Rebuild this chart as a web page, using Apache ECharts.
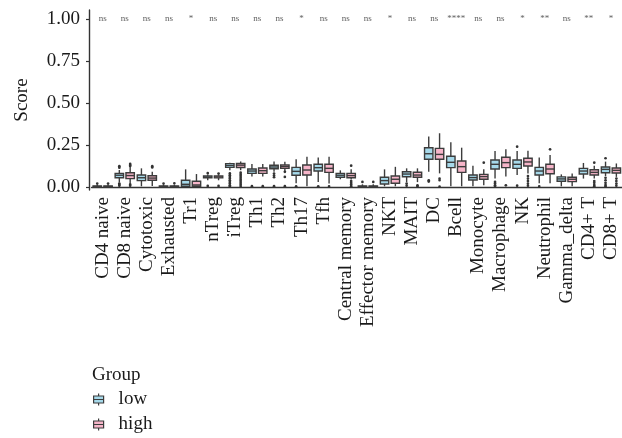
<!DOCTYPE html>
<html>
<head>
<meta charset="utf-8">
<script src="https://cdn.jsdelivr.net/npm/echarts@6.0.0/dist/echarts.min.js"></script>
<style>
  html, body { margin: 0; padding: 0; background: #fff; }
  #chart { width: 622px; height: 438px; }
</style>
</head>
<body>
<div id="chart"></div>
<script>
const categories = ["CD4 naive", "CD8 naive", "Cytotoxic", "Exhausted", "Tr1", "nTreg", "iTreg", "Th1", "Th2",
  "Th17", "Tfh", "Central memory", "Effector memory", "NKT", "MAIT", "DC", "Bcell", "Monocyte", "Macrophage",
  "NK", "Neutrophil", "Gamma_delta", "CD4+ T", "CD8+ T"];

// [min, q1, median, q3, max] per category
const lowStats = [
  [0, 0.001, 0.003, 0.006, 0.014], [0.027, 0.055, 0.07, 0.081, 0.101], [0.004, 0.038, 0.055, 0.071, 0.111],
  [0, 0.001, 0.003, 0.006, 0.013], [0, 0.004, 0.016, 0.04, 0.105], [0.04, 0.055, 0.06, 0.066, 0.075],
  [0.1, 0.117, 0.128, 0.139, 0.145], [0.062, 0.081, 0.095, 0.107, 0.137], [0.091, 0.109, 0.119, 0.129, 0.151],
  [0.022, 0.07, 0.093, 0.117, 0.165], [0.029, 0.095, 0.115, 0.135, 0.175], [0.046, 0.058, 0.07, 0.081, 0.099],
  [0, 0.001, 0.003, 0.006, 0.016], [0.004, 0.018, 0.038, 0.058, 0.105], [0.029, 0.061, 0.077, 0.091, 0.111],
  [0.091, 0.165, 0.198, 0.234, 0.3], [0.004, 0.115, 0.147, 0.183, 0.266], [0.004, 0.042, 0.056, 0.071, 0.127],
  [0.05, 0.107, 0.135, 0.161, 0.214], [0.071, 0.111, 0.135, 0.161, 0.214], [0.022, 0.071, 0.095, 0.117, 0.175],
  [0.004, 0.034, 0.048, 0.06, 0.075], [0.05, 0.077, 0.095, 0.111, 0.143], [0.065, 0.085, 0.105, 0.119, 0.151]
];
const highStats = [
  [0, 0.001, 0.003, 0.006, 0.014], [0.022, 0.05, 0.068, 0.085, 0.12], [0.006, 0.04, 0.053, 0.067, 0.09],
  [0, 0.001, 0.003, 0.006, 0.013], [0, 0.004, 0.012, 0.034, 0.077], [0.04, 0.054, 0.06, 0.066, 0.075],
  [0.1, 0.116, 0.13, 0.14, 0.152], [0.062, 0.081, 0.097, 0.113, 0.137], [0.095, 0.111, 0.121, 0.131, 0.15],
  [0.004, 0.071, 0.101, 0.131, 0.18], [0.02, 0.087, 0.111, 0.135, 0.18], [0.045, 0.055, 0.068, 0.081, 0.105],
  [0, 0.001, 0.003, 0.006, 0.016], [0.004, 0.022, 0.046, 0.065, 0.12], [0.029, 0.058, 0.071, 0.088, 0.111],
  [0.081, 0.165, 0.194, 0.23, 0.32], [0.004, 0.087, 0.121, 0.155, 0.234], [0.01, 0.046, 0.062, 0.075, 0.105],
  [0.062, 0.115, 0.145, 0.177, 0.224], [0.081, 0.125, 0.149, 0.171, 0.216], [0.022, 0.079, 0.107, 0.135, 0.19],
  [0.004, 0.032, 0.046, 0.058, 0.081], [0.05, 0.071, 0.087, 0.103, 0.127], [0.06, 0.083, 0.099, 0.113, 0.14]
];

// [category index, value]
const lowOutliers = [
  [0, 0.02], [1, 0.124], [1, 0.115], [1, 0.02], [1, 0.014], [1, 0.008], [3, 0.02], [5, 0.082], [5, 0.006],
  [6, 0.081], [6, 0.07], [6, 0.06], [6, 0.05], [6, 0.04], [6, 0.03], [6, 0.02], [6, 0.01], [6, 0.003],
  [7, 0.005], [8, 0.08], [8, 0.068], [8, 0.058], [8, 0.005], [9, 0.004], [10, 0.004], [12, 0.03],
  [14, 0.02], [14, 0.008], [15, 0.04], [15, 0.032], [18, 0.03], [18, 0.02], [18, 0.01], [18, 0.002],
  [19, 0.24], [19, 0.008], [20, 0.004], [23, 0.171], [23, 0.055], [23, 0.04], [23, 0.025], [23, 0.012], [23, 0.004]
];
const highOutliers = [
  [0, 0.02], [1, 0.137], [1, 0.13], [1, 0.125], [1, 0.015], [1, 0.008], [2, 0.124], [2, 0.116], [3, 0.022],
  [5, 0.08], [5, 0.006], [6, 0.085], [6, 0.075], [6, 0.065], [6, 0.055], [6, 0.045], [6, 0.035], [6, 0.025],
  [6, 0.015], [6, 0.005], [7, 0.005], [8, 0.09], [8, 0.06], [8, 0.005], [10, 0.004], [11, 0.127], [11, 0.035],
  [11, 0.025], [11, 0.015], [11, 0.005], [12, 0.03], [14, 0.01], [14, 0.003], [15, 0.05], [15, 0.04], [15, 0.002],
  [17, 0.145], [18, 0.01], [19, 0.065], [19, 0.05], [19, 0.035], [19, 0.02], [19, 0.008], [20, 0.224],
  [22, 0.145], [22, 0.035], [22, 0.025], [22, 0.012], [22, 0.004], [23, 0.05], [23, 0.035], [23, 0.02], [23, 0.008]
];

const signif = ["ns", "ns", "ns", "ns", "*", "ns", "ns", "ns", "ns", "*", "ns", "ns", "ns", "*", "ns", "ns",
  "****", "ns", "ns", "*", "**", "ns", "**", "*"];
const signifY = 1.0;

const tickValues = [0, 0.25, 0.5, 0.75, 1];
const tickLabels = ["0.00", "0.25", "0.50", "0.75", "1.00"];

const FONT = "'Liberation Serif', 'DejaVu Serif', serif";
const EDGE = "#3c3c3c";
const LOW = "#a6d9ea";
const HIGH = "#f6b5c9";

function boxSeries(name, stats, shift, fill) {
  return {
    name: name,
    type: "custom",
    color: fill,
    data: stats.map((s, i) => [i].concat(s)),
    encode: { x: 0, y: [1, 2, 3, 4, 5] },
    renderItem(params, api) {
      const c = api.value(0);
      const band = api.size([1, 0])[0];
      const half = band * 0.19;
      const pt = (k) => api.coord([c, api.value(k)]);
      const x = pt(1)[0] + shift * band;
      const yMin = pt(1)[1], yQ1 = pt(2)[1], yMed = pt(3)[1], yQ3 = pt(4)[1], yMax = pt(5)[1];
      const ls = { stroke: EDGE, lineWidth: 1.4 };
      return {
        type: "group",
        children: [
          { type: "line", shape: { x1: x, y1: yMax, x2: x, y2: yQ3 }, style: ls },
          { type: "line", shape: { x1: x, y1: yQ1, x2: x, y2: yMin }, style: ls },
          { type: "rect", shape: { x: x - half, y: yQ3, width: half * 2, height: yQ1 - yQ3 },
            style: { fill: fill, stroke: EDGE, lineWidth: 1.4 } },
          { type: "line", shape: { x1: x - half, y1: yMed, x2: x + half, y2: yMed }, style: ls }
        ]
      };
    }
  };
}

function outlierSeries(name, points, shift) {
  return {
    name: name + " outliers",
    type: "custom",
    data: points,
    encode: { x: 0, y: 1 },
    renderItem(params, api) {
      const band = api.size([1, 0])[0];
      const p = api.coord([api.value(0), api.value(1)]);
      return { type: "circle", shape: { cx: p[0] + shift * band, cy: p[1], r: 1.35 }, style: { fill: "#333" } };
    }
  };
}

const legendIcon = "path://M5,0V2.5M0,2.5H10V9.5H0ZM0,6H10M5,9.5V12";

const chart = echarts.init(document.getElementById("chart"), null, { renderer: "canvas" });
chart.setOption({
  backgroundColor: "#fff",
  animation: false,
  textStyle: { fontFamily: FONT },
  grid: { left: 91.6, right: 0, top: 10, bottom: 248 },
  xAxis: {
    type: "category",
    data: categories,
    axisLine: { lineStyle: { color: "#333", width: 1.4 } },
    axisTick: { alignWithLabel: true, length: 3, lineStyle: { color: "#333", width: 1.2 } },
    axisLabel: { rotate: 90, interval: 0, margin: 7, color: "#1a1a1a", fontSize: 19, fontFamily: FONT }
  },
  yAxis: {
    type: "value",
    min: -0.018,
    max: 1.054,
    offset: 2.6,
    name: "Score",
    nameLocation: "middle",
    nameGap: 57,
    nameTextStyle: { color: "#1a1a1a", fontSize: 19, fontFamily: FONT },
    splitLine: { show: false },
    axisLine: { show: true, lineStyle: { color: "#333", width: 1.4 } },
    axisTick: { show: true, length: 3, customValues: tickValues, lineStyle: { color: "#333", width: 1.2 } },
    axisLabel: {
      customValues: tickValues,
      margin: 9,
      color: "#1a1a1a",
      fontSize: 19,
      fontFamily: FONT,
      formatter: (v) => tickLabels[tickValues.indexOf(v)]
    }
  },
  legend: {
    left: 93,
    top: 388,
    padding: 0,
    orient: "vertical",
    itemWidth: 10,
    itemHeight: 12,
    itemGap: 2,
    textStyle: { fontSize: 19, lineHeight: 23, fontFamily: FONT, color: "#1a1a1a", padding: [0, 0, 0, 10] },
    data: [
      { name: "low", icon: legendIcon, itemStyle: { color: LOW, borderColor: EDGE, borderWidth: 1.2 } },
      { name: "high", icon: legendIcon, itemStyle: { color: HIGH, borderColor: EDGE, borderWidth: 1.2 } }
    ]
  },
  graphic: [
    { type: "text", left: 92, top: 366, style: { text: "Group", font: "19px " + FONT, fill: "#1a1a1a" } }
  ],
  series: [
    boxSeries("low", lowStats, -0.245, LOW),
    boxSeries("high", highStats, 0.245, HIGH),
    outlierSeries("low", lowOutliers, -0.245),
    outlierSeries("high", highOutliers, 0.245),
    {
      name: "signif",
      type: "scatter",
      symbolSize: 0,
      data: signif.map((s, i) => [i, signifY]),
      label: {
        show: true,
        position: "inside",
        formatter: (p) => signif[p.dataIndex],
        fontSize: 9,
        fontFamily: FONT,
        color: "#333"
      }
    }
  ]
});
</script>
</body>
</html>
